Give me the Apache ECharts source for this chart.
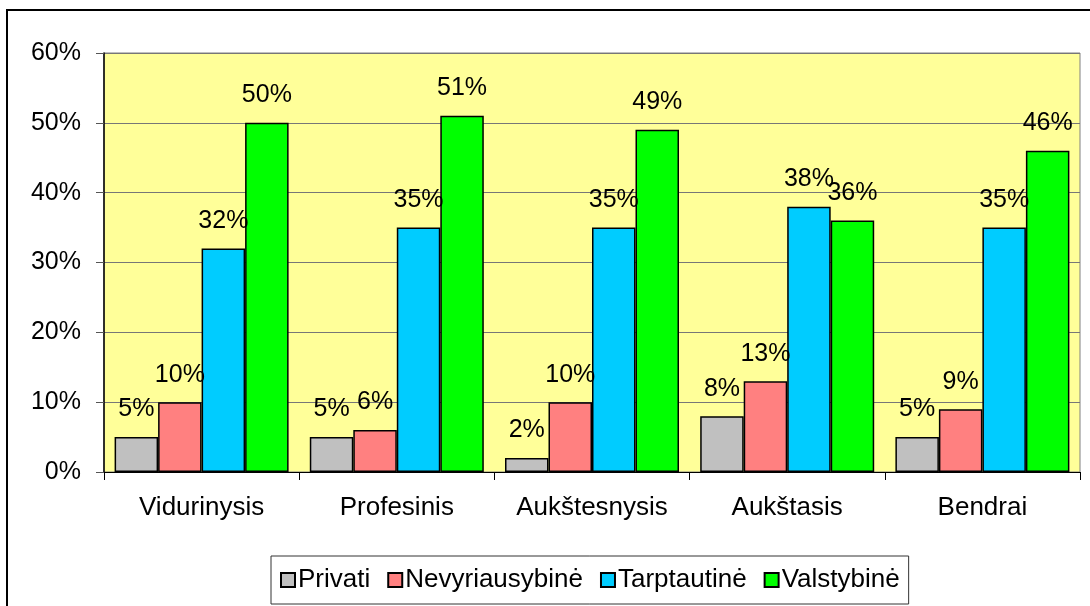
<!DOCTYPE html>
<html>
<head>
<meta charset="utf-8">
<script src="https://cdn.jsdelivr.net/npm/echarts@6/dist/echarts.min.js"></script>
<style>
  html, body { margin: 0; padding: 0; background: #fff; }
  #chart { width: 1090px; height: 606px; }
</style>
</head>
<body>
<div id="chart"></div>
<script>
// data
var categories = ["Vidurinysis", "Profesinis", "Aukštesnysis", "Aukštasis", "Bendrai"]
var privati = [5, 5, 2, 8, 5]
var nevyriausybine = [10, 6, 10, 13, 9]
var tarptautine = [32, 35, 35, 38, 35]
var valstybine = [50, 51, 49, 36, 46]

var seriesNames = ["Privati", "Nevyriausybinė", "Tarptautinė", "Valstybinė"]
var seriesColors = ["#C0C0C0", "#FF8080", "#00CCFF", "#00FF00"]
var seriesData = [privati, nevyriausybine, tarptautine, valstybine]

var font = "Arial, 'Liberation Sans', sans-serif"

var chart = echarts.init(document.getElementById("chart"))

var series = seriesNames.map(function (name, i) {
    return {
        name: name,
        type: "bar",
        data: seriesData[i],
        barWidth: 43.5,
        barGap: "0%",
        itemStyle: {
            color: seriesColors[i],
            borderColor: "#000",
            borderWidth: 1.5,
        },
        label: {
            show: true,
            position: "top",
            distance: 15,
            formatter: "{c}%",
            color: "#000",
            fontFamily: font,
            fontSize: 25,
        },
    }
})

var option = {
    animation: false,
    backgroundColor: "#fff",
    textStyle: { fontFamily: font },
    graphic: [{
        type: "rect",
        shape: { x: 7, y: 10, width: 1100, height: 620 },
        style: { fill: "none", stroke: "#000", lineWidth: 2 },
        z: 100,
    }],
    grid: {
        left: 104,
        right: 10,
        top: 53,
        bottom: 134,
        show: true,
        backgroundColor: "#FFFF99",
        borderColor: "#808080",
        borderWidth: 1,
    },
    legend: {
        data: seriesNames,
        left: 271,
        top: 556,
        orient: "horizontal",
        icon: "rect",
        itemWidth: 14,
        itemHeight: 14,
        itemGap: 17,
        padding: [11, 9, 11, 9],
        borderColor: "#333",
        borderWidth: 1,
        textStyle: { fontFamily: font, fontSize: 26, color: "#000", padding: [0, 0, 0, -2] },
    },
    xAxis: {
        type: "category",
        data: categories,
        axisLine: { lineStyle: { color: "#000", width: 1 } },
        axisTick: { show: true, interval: 0, length: 8, lineStyle: { color: "#000" } },
        axisLabel: { interval: 0, color: "#000", fontFamily: font, fontSize: 26, margin: 23 },
    },
    yAxis: {
        type: "value",
        min: 0,
        max: 60,
        interval: 10,
        axisLine: { show: true, lineStyle: { color: "#000", width: 1.5 } },
        axisTick: { show: true, length: 8, lineStyle: { color: "#555" } },
        axisLabel: { color: "#000", fontFamily: font, fontSize: 25, margin: 23, formatter: "{value}%" },
        splitLine: { lineStyle: { color: "#777", width: 1 } },
    },
    series: series,
}

chart.setOption(option)
</script>
</body>
</html>
